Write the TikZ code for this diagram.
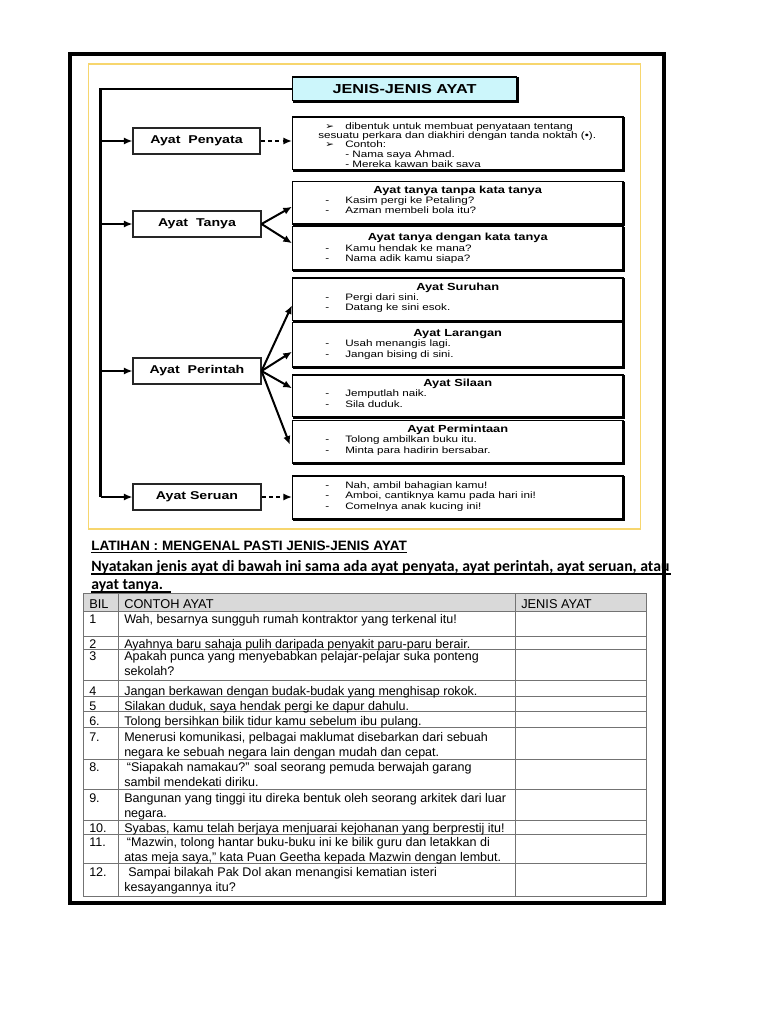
\documentclass[tikz,border=0pt]{standalone}
\usepackage{fontspec}
\setmainfont{Liberation Sans}
\newfontfamily\widef[FakeStretch=1.25]{Liberation Sans}
\newfontfamily\widedv[FakeStretch=1.1]{DejaVu Sans}
\newfontfamily\carl{Carlito}
\usetikzlibrary{arrows.meta,fit,calc}
\definecolor{framey}{RGB}{247,214,110}
\definecolor{titlec}{RGB}{204,246,251}
\definecolor{hdrgray}{RGB}{217,217,217}
\definecolor{tline}{RGB}{115,115,115}
\begin{document}
\begin{tikzpicture}[x=0.75pt,y=-0.75pt,
  lblbox/.style={draw=black!85, line width=0.8pt, fill=white, inner sep=0pt},
  lbltext/.style={inner sep=0pt, font=\widef\bfseries\fontsize{8.5}{10}\selectfont},
  descbox/.style={draw=black, line width=0.8pt, inner sep=0pt},
  titlebox/.style={draw=black, line width=0.8pt, fill=titlec, inner sep=0pt},
  titletext/.style={inner sep=0pt, font=\widef\bfseries\fontsize{9.75}{11}\selectfont},
  hd/.style={anchor=base, inner sep=0pt, font=\widef\bfseries\fontsize{7.7}{9}\selectfont},
  it/.style={anchor=base west, inner sep=0pt, font=\widef\fontsize{7}{8}\selectfont},
  bul/.style={anchor=base west, inner sep=0pt, font=\widedv\fontsize{7}{8}\selectfont},
  spineline/.style={line width=1.6pt},
  arr/.style={line width=1.5pt, -{Latex[length=6.5pt,width=5.5pt]}},
  darr/.style={line width=1.5pt, dash pattern=on 3pt off 2.5pt, -{Latex[length=6.5pt,width=5.5pt]}},
  tt/.style={anchor=base west, inner sep=0pt, align=left, font=\fontsize{9.4}{11.25}\selectfont},
  th/.style={anchor=base west, inner sep=0pt, font=\fontsize{9.6}{11}\selectfont},
  tl/.style={draw=tline, line width=0.75pt},
  shadowline/.style={line width=1.2pt}
]
\useasboundingbox (0,0) rectangle (768,1024);
\fill[white] (0,0) rectangle (768,1024);

% yellow frame
\draw[framey, line width=1.2pt] (88.5,64) rectangle (640.5,529);

% title
\node[titlebox, fit={(292.5,77) (516.5,100.5)}] (title) {};
\node[titletext] (titleT) at (title.center) {JENIS-JENIS AYAT};

% label boxes
\node[lblbox, fit={(133,128) (260,154)}] (penyata) {};
\node[lbltext] (penyataT) at (penyata.center) {Ayat\ \ Penyata};
\node[lblbox, fit={(133,211) (261,237)}] (tanya) {};
\node[lbltext] (tanyaT) at (tanya.center) {Ayat\ \ Tanya};
\node[lblbox, fit={(133,358) (261,384)}] (perintah) {};
\node[lbltext] (perintahT) at (perintah.center) {Ayat\ \ Perintah};
\node[lblbox, fit={(133,484) (261,510)}] (seruan) {};
\node[lbltext] (seruanT) at (seruan.center) {Ayat Seruan};

% description boxes
\node[descbox, fit={(292.5,117) (623,169.5)}] (pen) {};
\node[descbox, fit={(292.5,181.5) (623,224)}] (tq1) {};
\node[descbox, fit={(292.5,226.5) (623,270)}] (tq2) {};
\node[descbox, fit={(292.5,278) (623,320.5)}] (sur) {};
\node[descbox, fit={(292.5,322.5) (623,367)}] (lar) {};
\node[descbox, fit={(292.5,375) (623,416.5)}] (sil) {};
\node[descbox, fit={(292.5,420.5) (623,463)}] (per) {};
\node[descbox, fit={(292.5,476) (623,519)}] (ser) {};

\foreach \n in {title,pen,tq1,tq2,sur,lar,sil,per,ser}{
  \draw[shadowline] ([xshift=0.7pt,yshift=-0.6pt]\n.north east) -- ([xshift=0.7pt,yshift=-0.7pt]\n.south east) -- ([xshift=0.6pt,yshift=-0.7pt]\n.south west);
}

% spine
\coordinate (stop) at (100.5,88.6);
\coordinate (sbot) at (100.5,497);
\draw[spineline] (stop) -- (sbot);
\draw[spineline] ([xshift=-0.8pt]stop) -- (stop -| title.west);
\draw[arr] (penyata.west -| stop) -- (penyata.west);
\draw[arr] (tanya.west -| stop) -- (tanya.west);
\draw[arr] (perintah.west -| stop) -- (perintah.west);
\draw[arr] (seruan.west -| stop) -- (seruan.west);

% branch arrows
\draw[darr] (penyata.east) -- (penyata.east -| pen.west);
\draw[arr] (tanya.east) -- ($(tq1.west)+(0,4)$);
\draw[arr] (tanya.east) -- ($(tq2.west)+(0,-5)$);
\draw[arr] (perintah.east) -- ($(sur.west)+(0,6)$);
\draw[arr] (perintah.east) -- ($(lar.west)+(0,7)$);
\draw[arr] (perintah.east) -- ($(sil.west)+(0,-7.5)$);
\draw[arr] (perintah.east) -- ($(per.west)+(-2,3)$);
\draw[darr] (seruan.east) -- (seruan.east -| ser.west);

% penyata text
\begin{scope}
\clip (293,118) rectangle (622,166.3);
\node[bul] (pb1) at (325,129.5) {➢};
\node[it] (pt1) at (345,129.5) {dibentuk untuk membuat penyataan tentang};
\node[it] (pt2) at (318,138.5) {sesuatu perkara dan diakhiri dengan tanda noktah (•).};
\node[bul] (pb2) at (325,147.7) {➢};
\node[it] (pt3) at (345,147.7) {Contoh:};
\node[it] (pt4) at (345,157) {- Nama saya Ahmad.};
\node[it] (pt5) at (345,167.5) {- Mereka kawan baik saya};
\end{scope}

% tanya
\node[hd] (h1) at (tq1.center |- 0,193) {Ayat tanya tanpa kata tanya};
\node[it] (d11) at (325,203.3) {-}; \node[it] (i11) at (345,203.3) {Kasim pergi ke Petaling?};
\node[it] (d12) at (325,213.3) {-}; \node[it] (i12) at (345,213.3) {Azman membeli bola itu?};
\node[hd] (h2) at (tq2.center |- 0,240) {Ayat tanya dengan kata tanya};
\node[it] (d21) at (325,251) {-}; \node[it] (i21) at (345,251) {Kamu hendak ke mana?};
\node[it] (d22) at (325,261.7) {-}; \node[it] (i22) at (345,261.7) {Nama adik kamu siapa?};

% perintah
\node[hd] (h3) at (sur.center |- 0,290.7) {Ayat Suruhan};
\node[it] (d31) at (325,300.7) {-}; \node[it] (i31) at (345,300.7) {Pergi dari sini.};
\node[it] (d32) at (325,310.7) {-}; \node[it] (i32) at (345,310.7) {Datang ke sini esok.};
\node[hd] (h4) at (lar.center |- 0,336) {Ayat Larangan};
\node[it] (d41) at (325,346.7) {-}; \node[it] (i41) at (345,346.7) {Usah menangis lagi.};
\node[it] (d42) at (325,357.3) {-}; \node[it] (i42) at (345,357.3) {Jangan bising di sini.};
\node[hd] (h5) at (sil.center |- 0,386) {Ayat Silaan};
\node[it] (d51) at (325,396.7) {-}; \node[it] (i51) at (345,396.7) {Jemputlah naik.};
\node[it] (d52) at (325,407.3) {-}; \node[it] (i52) at (345,407.3) {Sila duduk.};
\node[hd] (h6) at (per.center |- 0,432.7) {Ayat Permintaan};
\node[it] (d61) at (325,442.7) {-}; \node[it] (i61) at (345,442.7) {Tolong ambilkan buku itu.};
\node[it] (d62) at (325,453.3) {-}; \node[it] (i62) at (345,453.3) {Minta para hadirin bersabar.};

% seruan
\node[it] (d71) at (325,488.3) {-}; \node[it] (i71) at (345,488.3) {Nah, ambil bahagian kamu!};
\node[it] (d72) at (325,498.3) {-}; \node[it] (i72) at (345,498.3) {Amboi, cantiknya kamu pada hari ini!};
\node[it] (d73) at (325,509) {-}; \node[it] (i73) at (345,509) {Comelnya anak kucing ini!};

% bottom headings
\node[anchor=base west, inner sep=0pt, font=\bfseries\fontsize{10.2}{12}\selectfont] (lat) at (91,550) {LATIHAN : MENGENAL PASTI JENIS-JENIS AYAT};
\draw[line width=0.9pt] ($(lat.base west)+(0,2.5)$) -- ($(lat.base east)+(0,2.5)$);
\node[anchor=base west, inner sep=0pt, font=\carl\bfseries\fontsize{11.8}{13}\selectfont] (nya) at (91,571) {Nyatakan jenis ayat di bawah ini sama ada ayat penyata, ayat perintah, ayat seruan, atau};
\draw[line width=0.9pt] ($(nya.base west)+(0,3)$) -- ($(nya.base east)+(2,3)$);
\node[anchor=base west, inner sep=0pt, font=\carl\bfseries\fontsize{11.8}{13}\selectfont] (ayt) at (91,589) {ayat tanya.};
\draw[line width=0.9pt] ($(ayt.base west)+(0,3)$) -- ($(ayt.base east)+(8,3)$);

% table
\fill[hdrgray] (83,593.5) rectangle (646.5,611.7);
\foreach \y in {593.5,611.7,636,649.3,680.7,696,711.7,727.3,759.3,789.3,820.7,834,863.3,896.7}
  \draw[tl] (83,\y) -- (646.5,\y);
\foreach \x in {83,118.7,515.6,646.5}
  \draw[tl] (\x,593.5) -- (\x,896.7);

\node[th] (hbil) at (89,608.3) {BIL};
\node[th] (hcon) at (124,608.3) {CONTOH AYAT};
\node[th] (hjen) at (521,608.3) {JENIS AYAT};

% multi-line cells: base anchor is the last line's baseline
\node[tt] (n1) at (89,623.3) {1};
\node[tt] (r1) at (124,623.3) {Wah, besarnya sungguh rumah kontraktor yang terkenal itu!};
\node[tt] (n2) at (89,648) {2};
\node[tt] (r2) at (124,648) {Ayahnya baru sahaja pulih daripada penyakit paru-paru berair.};
\node[tt] (n3) at (89,660) {3};
\node[tt] (r3) at (124,675) {Apakah punca yang menyebabkan pelajar-pelajar suka ponteng\\sekolah?};
\node[tt] (n4) at (89,695) {4};
\node[tt] (r4) at (124,695) {Jangan berkawan dengan budak-budak yang menghisap rokok.};
\node[tt] (n5) at (89,710.7) {5};
\node[tt] (r5) at (124,710.7) {Silakan duduk, saya hendak pergi ke dapur dahulu.};
\node[tt] (n6) at (89,725.7) {6.};
\node[tt] (r6) at (124,725.7) {Tolong bersihkan bilik tidur kamu sebelum ibu pulang.};
\node[tt] (n7) at (89,741.7) {7.};
\node[tt] (r7) at (124,756.7) {Menerusi komunikasi, pelbagai maklumat disebarkan dari sebuah\\negara ke sebuah negara lain dengan mudah dan cepat.};
\node[tt] (n8) at (89,771.7) {8.};
\node[tt] (r8) at (124,786.7) {\hspace*{2pt}“Siapakah namakau?” soal seorang pemuda berwajah garang\\sambil mendekati diriku.};
\node[tt] (n9) at (89,802.7) {9.};
\node[tt] (r9) at (124,817.5) {Bangunan yang tinggi itu direka bentuk oleh seorang arkitek dari luar\\negara.};
\node[tt] (n10) at (89,832.5) {10.};
\node[tt] (r10) at (124,832.5) {Syabas, kamu telah berjaya menjuarai kejohanan yang berprestij itu!};
\node[tt] (n11) at (89,846.7) {11.};
\node[tt] (r11) at (124,861.7) {\hspace*{2pt}“Mazwin, tolong hantar buku-buku ini ke bilik guru dan letakkan di\\atas meja saya,” kata Puan Geetha kepada Mazwin dengan lembut.};
\node[tt] (n12) at (89,876.7) {12.};
\node[tt] (r12) at (124,891.7) {\hspace*{3pt}Sampai bilakah Pak Dol akan menangisi kematian isteri\\kesayangannya itu?};

% outer frame
\draw[line width=2.3pt] (70,54) rectangle (664,903);
\end{tikzpicture}
\end{document}
